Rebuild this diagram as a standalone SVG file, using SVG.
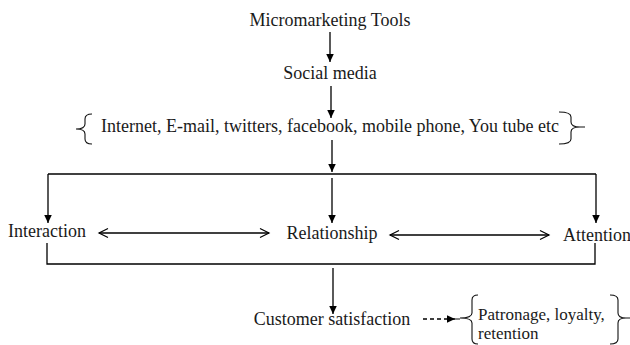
<svg xmlns="http://www.w3.org/2000/svg" width="630" height="345" viewBox="0 0 630 345">
<style>
text{font-family:"Liberation Serif","Times New Roman",serif;font-size:18px;fill:#1a1a1a}
.c{text-anchor:middle}
.ln{stroke:#000;stroke-width:1.3;fill:none}
.br{stroke:#111;stroke-width:1.1;fill:none}
</style>
<defs>
<marker id="ah" markerUnits="userSpaceOnUse" markerWidth="9" markerHeight="9" viewBox="0 0 9 9" refX="8.5" refY="4.5" orient="auto">
<path d="M0,0.5 L8.5,4.5 L0,8.5 z" fill="#000"/>
</marker>
<marker id="oh" markerUnits="userSpaceOnUse" markerWidth="12" markerHeight="12" viewBox="0 0 12 12" refX="10" refY="6" orient="auto-start-reverse">
<path d="M1,1.5 L10,6 L1,10.5" fill="none" stroke="#000" stroke-width="1.2"/>
</marker>
</defs>
<rect width="630" height="345" fill="#fff"/>
<g id="connectors">
<line class="ln" x1="330" y1="32" x2="330" y2="62" marker-end="url(#ah)"/>
<line class="ln" x1="331" y1="86" x2="331" y2="118" marker-end="url(#ah)"/>
<line class="ln" x1="332" y1="140" x2="332" y2="172" marker-end="url(#ah)"/>
<path class="ln" d="M48,174 H596"/>
<line class="ln" x1="48" y1="174" x2="48" y2="223" marker-end="url(#ah)"/>
<line class="ln" x1="332" y1="178" x2="332" y2="223" marker-end="url(#ah)"/>
<line class="ln" x1="596" y1="174" x2="596" y2="223" marker-end="url(#ah)"/>
<line class="ln" x1="99" y1="233" x2="269" y2="233" marker-start="url(#oh)" marker-end="url(#oh)"/>
<line class="ln" x1="390" y1="235" x2="549" y2="235" marker-start="url(#oh)" marker-end="url(#oh)"/>
<path class="ln" d="M47,243 V264 H595 V243"/>
<line class="ln" x1="333" y1="268" x2="333" y2="314" marker-end="url(#ah)"/>
<line class="ln" x1="423" y1="319" x2="455" y2="319" stroke-dasharray="4,3" marker-end="url(#ah)"/>
</g>
<g id="n-tools"><text class="c" x="330" y="26">Micromarketing Tools</text></g>
<g id="n-social"><text class="c" x="330" y="79">Social media</text></g>
<g id="n-channels">
<path class="br" d="M92,114 Q85,114 85,119 V124 Q85,129 76,129 Q85,129 85,134 V139 Q85,144 92,144"/>
<text class="c" x="330" y="132">Internet, E-mail, twitters, facebook, mobile phone, You tube etc</text>
<path class="br" d="M559,112 Q571,112 571,117 V122 Q571,127 580,127 Q571,127 571,132 V139 Q571,144 559,144 M579,127 H585"/>
</g>
<g id="n-interaction"><text x="8" y="237">Interaction</text></g>
<g id="n-relationship"><text class="c" x="332" y="239">Relationship</text></g>
<g id="n-attention"><text x="563" y="241">Attention</text></g>
<g id="n-satisfaction"><text class="c" x="332" y="325">Customer satisfaction</text></g>
<g id="n-outcomes">
<path class="br" d="M455,319 H460 M478,295 Q472,295 472,300 V313 Q472,318 460,318 Q472,318 472,323 V339 Q472,344 478,344"/>
<text x="478" y="320" style="font-size:17px">Patronage, loyalty,</text>
<text x="478" y="339" style="font-size:17px">retention</text>
<path class="br" d="M610,295 Q618,295 618,300 V313 Q618,318 626,318 Q618,318 618,323 V339 Q618,344 610,344 M625,318 H630"/>
</g>
</svg>
